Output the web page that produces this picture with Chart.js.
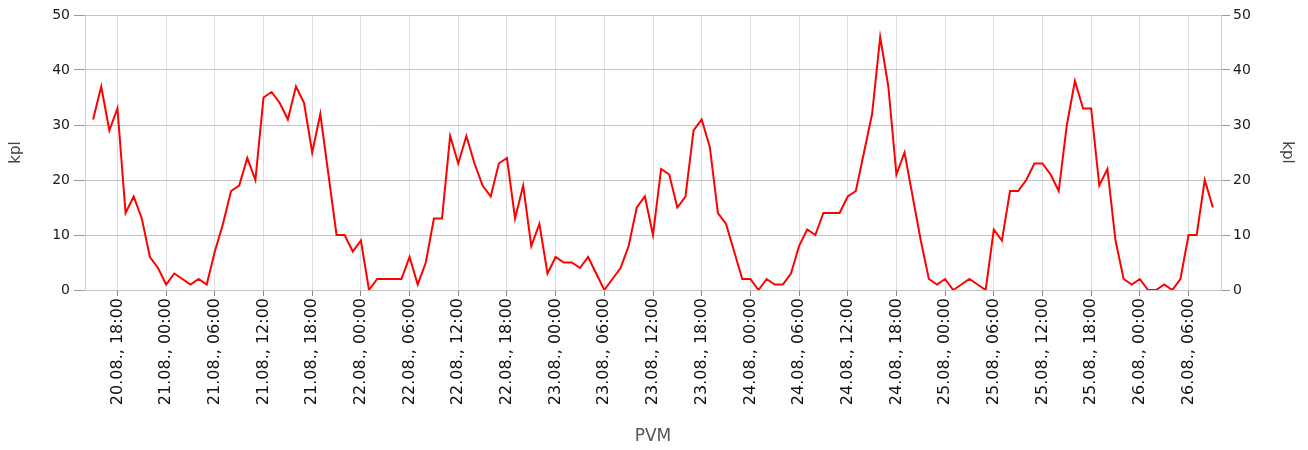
<!DOCTYPE html>
<html>
<head>
<meta charset="utf-8">
<script src="https://cdn.jsdelivr.net/npm/chart.js@4/dist/chart.umd.min.js"></script>
<style>
  html, body { margin: 0; padding: 0; background: #fff; }
  #wrap { width: 1308px; height: 450px; }
</style>
</head>
<body>
<div id="wrap"><canvas id="chart"></canvas></div>
<script>
// hourly counts, 20.08. 15:00 -> 26.08. 09:00
const values = [
  31, 37, 29, 33, 14, 17, 13, 6, 4, 1,
  3, 2, 1, 2, 1, 7, 12, 18, 19, 24,
  20, 35, 36, 34, 31, 37, 34, 25, 32, 21,
  10, 10, 7, 9, 0, 2, 2, 2, 2, 6,
  1, 5, 13, 13, 28, 23, 28, 23, 19, 17,
  23, 24, 13, 19, 8, 12, 3, 6, 5, 5,
  4, 6, 3, 0, 2, 4, 8, 15, 17, 10,
  22, 21, 15, 17, 29, 31, 26, 14, 12, 7,
  2, 2, 0, 2, 1, 1, 3, 8, 11, 10,
  14, 14, 14, 17, 18, 25, 32, 46, 37, 21,
  25, 17, 9, 2, 1, 2, 0, 1, 2, 1,
  0, 11, 9, 18, 18, 20, 23, 23, 21, 18,
  30, 38, 33, 33, 19, 22, 9, 2, 1, 2,
  0, 0, 1, 0, 2, 10, 10, 20, 15
];

const tickLabels = [
  '20.08., 18:00',
  '21.08., 00:00', '21.08., 06:00', '21.08., 12:00', '21.08., 18:00',
  '22.08., 00:00', '22.08., 06:00', '22.08., 12:00', '22.08., 18:00',
  '23.08., 00:00', '23.08., 06:00', '23.08., 12:00', '23.08., 18:00',
  '24.08., 00:00', '24.08., 06:00', '24.08., 12:00', '24.08., 18:00',
  '25.08., 00:00', '25.08., 06:00', '25.08., 12:00', '25.08., 18:00',
  '26.08., 00:00', '26.08., 06:00'
];

const yTicks = [0, 10, 20, 30, 40, 50];

// one empty hour slot on each side (20.08. 14:00 and 26.08. 10:00)
const categories = [];
for (let h = 0; h < values.length + 2; h++) {
  const t = 14 + h;
  const day = 20 + Math.floor(t / 24);
  const hh = String(t % 24).padStart(2, '0');
  categories.push(day + '.08., ' + hh + ':00');
}
const series = [null, ...values, null];

const isMajor = (ctx) => ctx.tick && tickLabels.includes(categories[ctx.tick.value]);

const yFont = { family: 'DejaVu Sans', size: 14 };

new Chart(document.getElementById('chart'), {
  type: 'line',
  data: {
    labels: categories,
    datasets: [{
      label: 'kpl',
      data: series,
      borderColor: '#ff0000',
      borderWidth: 2,
      pointRadius: 0,
      tension: 0,
      fill: false,
      yAxisID: 'y'
    }]
  },
  options: {
    responsive: true,
    maintainAspectRatio: false,
    animation: false,
    layout: { padding: { top: 15, left: 0, right: 0, bottom: 0 } },
    plugins: { legend: { display: false }, tooltip: { enabled: false } },
    scales: {
      x: {
        type: 'category',
        offset: false,
        grid: {
          color: (ctx) => isMajor(ctx) ? '#dedede' : 'rgba(0,0,0,0)',
          tickColor: (ctx) => isMajor(ctx) ? '#888' : 'rgba(0,0,0,0)',
          tickLength: 6
        },
        border: { color: '#c4c4c4' },
        ticks: {
          autoSkip: false,
          minRotation: 90,
          maxRotation: 90,
          padding: 2,
          color: '#111',
          font: { family: 'DejaVu Sans', size: 16 },
          callback: function (v) {
            const l = this.getLabelForValue(v);
            return tickLabels.includes(l) ? l : '';
          }
        },
        title: {
          display: true,
          text: 'PVM',
          color: '#555',
          font: { family: 'DejaVu Sans', size: 17 },
          padding: { top: 0, bottom: 3 }
        },
        afterFit: (s) => { s.height = 160; }
      },
      y: {
        position: 'left',
        min: 0,
        max: 50,
        afterBuildTicks: (s) => { s.ticks = yTicks.map(v => ({ value: v })); },
        grid: { color: '#c4c4c4', tickColor: '#999', tickLength: 11 },
        border: { color: '#d0d0d0' },
        ticks: { color: '#1a1a1a', font: yFont, padding: 4 },
        title: {
          display: true,
          text: 'kpl',
          color: '#444',
          font: { family: 'DejaVu Sans', size: 15 },
          padding: { top: 7, bottom: 0 }
        },
        afterFit: (s) => { s.width = 85; }
      },
      y2: {
        position: 'right',
        min: 0,
        max: 50,
        afterBuildTicks: (s) => { s.ticks = yTicks.map(v => ({ value: v })); },
        grid: { drawOnChartArea: false, color: '#c4c4c4', tickColor: '#999', tickLength: 9 },
        border: { color: '#d0d0d0' },
        ticks: { color: '#1a1a1a', font: yFont, padding: 3 },
        title: {
          display: true,
          text: 'kpl',
          color: '#444',
          font: { family: 'DejaVu Sans', size: 15 },
          padding: { top: 12, bottom: 0 }
        },
        afterFit: (s) => { s.width = 87; }
      }
    }
  }
});
</script>
</body>
</html>
